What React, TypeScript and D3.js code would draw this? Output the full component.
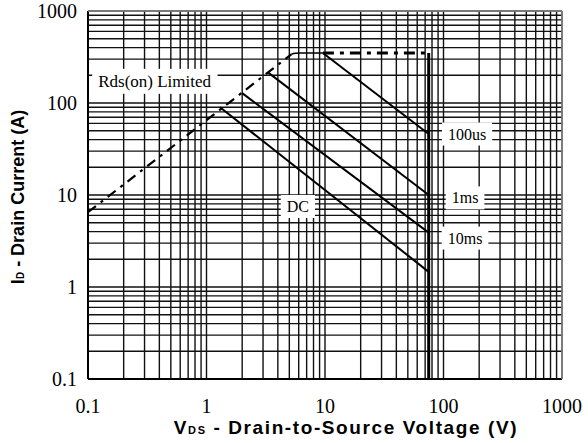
import React, { useEffect, useRef } from "react";
import * as d3 from "d3";

// safe operating area
const xTicks = [0.1, 1, 10, 100, 1000];
const yTicks = [0.1, 1, 10, 100, 1000];

const rdsLimit: [number, number][] = [[0.1, 6.5], [5.2, 338]];
const rdsBend: [number, number][] = [[5.2, 338], [5.6, 348], [6.2, 350], [9.6, 350]];
const pulseTop: [number, number][] = [[9.6, 350], [75, 350]];
const vdsMax: [number, number][] = [[75, 350], [75, 0.1]];
const line100us: [number, number][] = [[9.6, 350], [75, 46]];
const line1ms: [number, number][] = [[3.3, 215], [75, 10]];
const line10ms: [number, number][] = [[2.0, 128], [75, 3.9]];
const lineDC: [number, number][] = [[1.3, 90], [75, 1.46]];

const labels = [
  { text: "Rds(on) Limited", v: 0.365, i: 172 },
  { text: "100us", v: 158, i: 46 },
  { text: "1ms", v: 152, i: 9.3 },
  { text: "10ms", v: 152, i: 3.4 },
  { text: "DC", v: 5.9, i: 7.5 },
];

const W = 588;
const H = 443;
const margin = { top: 11, right: 26, bottom: 64, left: 88 };

const App: React.FC = () => {
  const svgRef = useRef<SVGSVGElement | null>(null);

  useEffect(() => {
    if (!svgRef.current) return;
    const svg = d3.select(svgRef.current);
    svg.selectAll("*").remove();

    const x = d3.scaleLog().domain([0.1, 1000]).range([margin.left, W - margin.right]);
    const y = d3.scaleLog().domain([0.1, 1000]).range([H - margin.bottom, margin.top]);

    // grid: 1..9 per decade
    const gridVals: number[] = [];
    for (let e = -1; e < 3; e++) {
      for (let m = 1; m < 10; m++) gridVals.push(m * Math.pow(10, e));
    }
    gridVals.push(1000);

    const grid = svg.append("g").attr("stroke", "#111").attr("stroke-width", 1.4);
    gridVals.forEach((v) => {
      grid.append("line")
        .attr("x1", x(v)).attr("x2", x(v))
        .attr("y1", y(0.1)).attr("y2", y(1000));
      grid.append("line")
        .attr("x1", x(0.1)).attr("x2", x(1000))
        .attr("y1", y(v)).attr("y2", y(v));
    });
    // frame
    svg.append("line").attr("x1", x(0.1)).attr("x2", x(0.1)).attr("y1", y(0.1)).attr("y2", y(1000))
      .attr("stroke", "#000").attr("stroke-width", 2);
    svg.append("line").attr("x1", x(0.1)).attr("x2", x(1000)).attr("y1", y(0.1)).attr("y2", y(0.1))
      .attr("stroke", "#000").attr("stroke-width", 2);
    svg.append("line").attr("x1", x(0.1)).attr("x2", x(1000)).attr("y1", y(1000)).attr("y2", y(1000))
      .attr("stroke", "#888").attr("stroke-width", 1.5);
    svg.append("line").attr("x1", x(1000)).attr("x2", x(1000)).attr("y1", y(0.1)).attr("y2", y(1000))
      .attr("stroke", "#888").attr("stroke-width", 1.5);

    const line = d3.line<[number, number]>().x((d) => x(d[0])).y((d) => y(d[1]));
    const curve = d3.line<[number, number]>().x((d) => x(d[0])).y((d) => y(d[1])).curve(d3.curveMonotoneX);

    const draw = (data: [number, number][], width: number, dash?: string, gen = line) => {
      svg.append("path")
        .attr("d", gen(data) as string)
        .attr("fill", "none")
        .attr("stroke", "#000")
        .attr("stroke-width", width)
        .attr("stroke-dasharray", dash ?? null);
    };

    draw(rdsLimit, 2.2, "10,6,3,6");
    draw(rdsBend, 1.6, undefined, curve);
    draw(pulseTop, 3, "11,6,4,6");
    draw(vdsMax, 3);
    draw(line100us, 2);
    draw(line1ms, 2);
    draw(line10ms, 2);
    draw(lineDC, 2);

    // curve labels with white boxes
    labels.forEach((l, k) => {
      const g = svg.append("g");
      const t = g.append("text")
        .attr("x", x(l.v)).attr("y", y(l.i))
        .attr("text-anchor", "middle")
        .attr("dominant-baseline", "central")
        .attr("font-family", "'Liberation Serif', 'Times New Roman', serif")
        .attr("font-size", k === 0 ? 17 : 16)
        .text(l.text);
      const bb = (t.node() as SVGTextElement).getBBox();
      g.insert("rect", "text")
        .attr("x", bb.x - 6).attr("y", bb.y - 3)
        .attr("width", bb.width + 12).attr("height", bb.height + 6)
        .attr("fill", "#fff");
    });

    // tick labels
    const tickFont = "'Liberation Serif', 'Times New Roman', serif";
    xTicks.forEach((v) => {
      svg.append("text")
        .attr("x", x(v)).attr("y", 413)
        .attr("text-anchor", "middle")
        .attr("font-family", tickFont)
        .attr("font-size", 20)
        .text(String(v));
    });
    yTicks.forEach((v) => {
      svg.append("text")
        .attr("x", 77).attr("y", y(v))
        .attr("text-anchor", "end")
        .attr("dominant-baseline", "central")
        .attr("font-family", tickFont)
        .attr("font-size", 20)
        .text(String(v));
    });

    // axis titles
    const xt = svg.append("text")
      .attr("x", 346).attr("y", 434)
      .attr("text-anchor", "middle")
      .attr("font-family", "'Liberation Sans', Arial, sans-serif")
      .attr("font-weight", "bold")
      .attr("font-size", 19)
      .attr("letter-spacing", 1.6);
    xt.append("tspan").text("V");
    xt.append("tspan").attr("font-size", 11).text("DS");
    xt.append("tspan").text(" - Drain-to-Source Voltage (V)");

    const yt = svg.append("text")
      .attr("transform", `translate(24,${197}) rotate(-90)`)
      .attr("text-anchor", "middle")
      .attr("font-family", "'Liberation Sans', Arial, sans-serif")
      .attr("font-weight", "bold")
      .attr("font-size", 18);
    yt.append("tspan").text("I");
    yt.append("tspan").attr("font-size", 10).text("D");
    yt.append("tspan").text(" - Drain Current (A)");
  }, []);

  return (
    <div style={{ position: "absolute", left: 0, top: 0, background: "#fff" }}>
      <svg ref={svgRef} width={W} height={H}></svg>
    </div>
  );
};

export default App;
